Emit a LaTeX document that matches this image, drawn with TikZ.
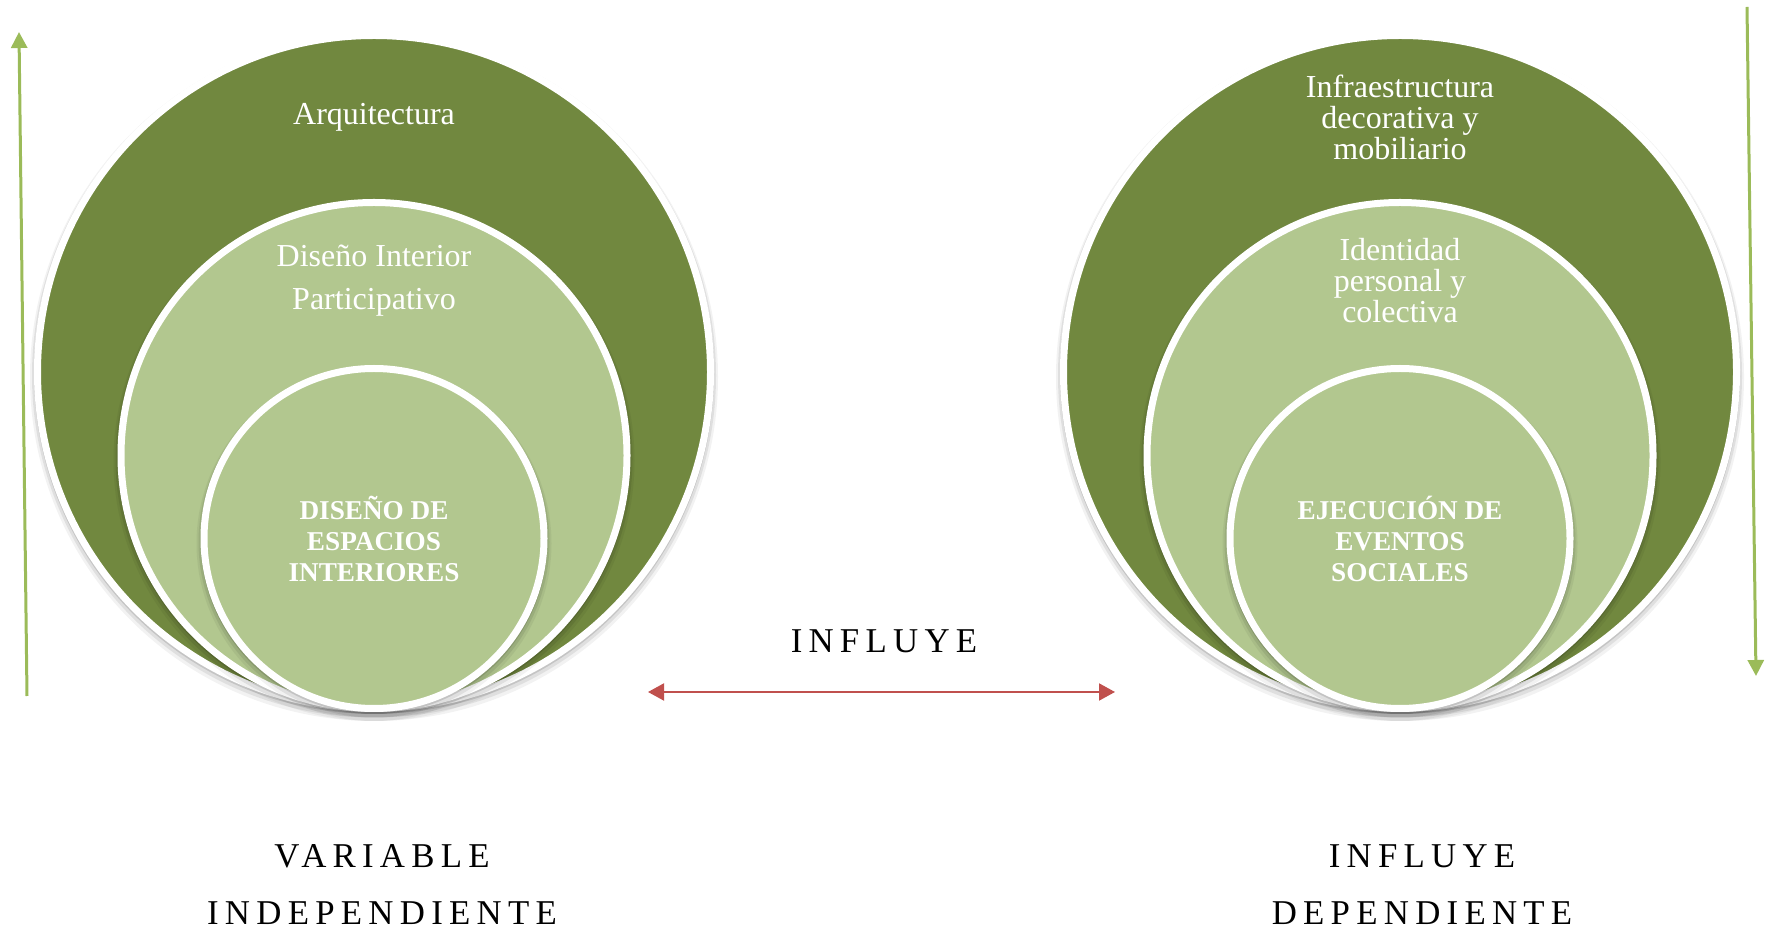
\documentclass[tikz,border=0pt]{standalone}
\usepackage{fontspec}
\setmainfont{Liberation Serif}
\newfontfamily\spacedfont[LetterSpace=18]{Liberation Serif}
\usetikzlibrary{arrows.meta}

\definecolor{darkleaf}{HTML}{71883F}
\definecolor{lightleaf}{HTML}{B2C78F}
\definecolor{arrowgreen}{HTML}{9BBB59}
\definecolor{arrowred}{HTML}{C0504D}

\tikzset{
  ring/.style={circle, draw=white, line width=3.5pt, inner sep=0pt, outer sep=0pt},
  ringdark/.style={ring, fill=darkleaf},
  ringlight/.style={ring, fill=lightleaf},
  softshade/.style={circle, fill=black, draw=none, inner sep=0pt, outer sep=0pt},
  lbl/.style={text=white, align=center, inner sep=0pt, font=\fontsize{16}{15.5}\selectfont},
  lblwide/.style={text=white, align=center, inner sep=0pt, font=\fontsize{16}{21.5}\selectfont},
  lblbold/.style={text=white, align=center, inner sep=0pt, font=\fontsize{13.6}{15.5}\selectfont\bfseries},
  caption/.style={text=black, inner sep=0pt, font=\spacedfont\fontsize{17.4}{20}\selectfont},
  greenarrow/.style={draw=arrowgreen, line width=1.5pt, -{Triangle[length=8pt,width=8pt]}},
  redarrow/.style={draw=arrowred, line width=1pt,
    {Triangle[length=8pt,width=8.5pt]}-{Triangle[length=8pt,width=8.5pt]}},
}

% soft shadow under a disc: name, x, y, outer diameter
\newcommand\discshadow[4]{%
  \node[softshade, opacity=0.05, minimum size=#4+4pt] (#1a) at (#2,#3+5) {};
  \node[softshade, opacity=0.08, minimum size=#4+2pt] (#1b) at (#2,#3+3.5) {};
  \node[softshade, opacity=0.12, minimum size=#4] (#1c) at (#2,#3+2) {};
}

\begin{document}
\begin{tikzpicture}[x=0.5pt, y=-0.5pt]
  \useasboundingbox (0,0) rectangle (1767,929);

  % ---- left set of nested discs ----
  \discshadow{shLo}{374}{372}{340pt}
  \node[ringdark, minimum size=336.5pt] (Lout) at (374,372) {};
  \discshadow{shLm}{374}{455.5}{256.5pt}
  \node[ringlight, minimum size=253pt] (Lmid) at (374,455.5) {};
  \discshadow{shLi}{374}{538.5}{173.5pt}
  \node[ringlight, minimum size=170pt] (Lin) at (374,538.5) {};

  \node[lbl] (tArq) at (374,117) {Arquitectura};
  \node[lblwide] (tDis) at (374,280.5) {Diseño Interior\\Participativo};
  \node[lblbold] (tDEI) at (374,539) {DISEÑO DE\\ESPACIOS\\INTERIORES};

  % ---- right set of nested discs ----
  \discshadow{shRo}{1400}{372}{340pt}
  \node[ringdark, minimum size=336.5pt] (Rout) at (1400,372) {};
  \discshadow{shRm}{1400}{455.5}{256.5pt}
  \node[ringlight, minimum size=253pt] (Rmid) at (1400,455.5) {};
  \discshadow{shRi}{1400}{538.5}{173.5pt}
  \node[ringlight, minimum size=170pt] (Rin) at (1400,538.5) {};

  \node[lbl] (tInf) at (1400,117) {Infraestructura\\decorativa y\\mobiliario};
  \node[lbl] (tIde) at (1400,280.6) {Identidad\\personal y\\colectiva};
  \node[lblbold] (tEES) at (1400,539) {EJECUCIÓN DE\\EVENTOS\\SOCIALES};

  % ---- vertical arrows ----
  \coordinate (gl0) at (27,696);
  \coordinate (gl1) at (19,32);
  \draw[greenarrow] (gl0) -- (gl1);
  \coordinate (gr0) at (1747,7);
  \coordinate (gr1) at (1756,676);
  \draw[greenarrow] (gr0) -- (gr1);

  % ---- central relation ----
  \node[caption] (tMid) at (884,641.5) {INFLUYE};
  \coordinate (ra) at (648,692);
  \coordinate (rb) at (1115,692);
  \draw[redarrow] (ra) -- (rb);

  % ---- captions ----
  \node[caption] (tVar) at (382,856) {VARIABLE};
  \node[caption] (tInd) at (382,913) {INDEPENDIENTE};
  \node[caption] (tInf2) at (1422,856) {INFLUYE};
  \node[caption] (tDep) at (1422,913) {DEPENDIENTE};
\end{tikzpicture}
\end{document}
